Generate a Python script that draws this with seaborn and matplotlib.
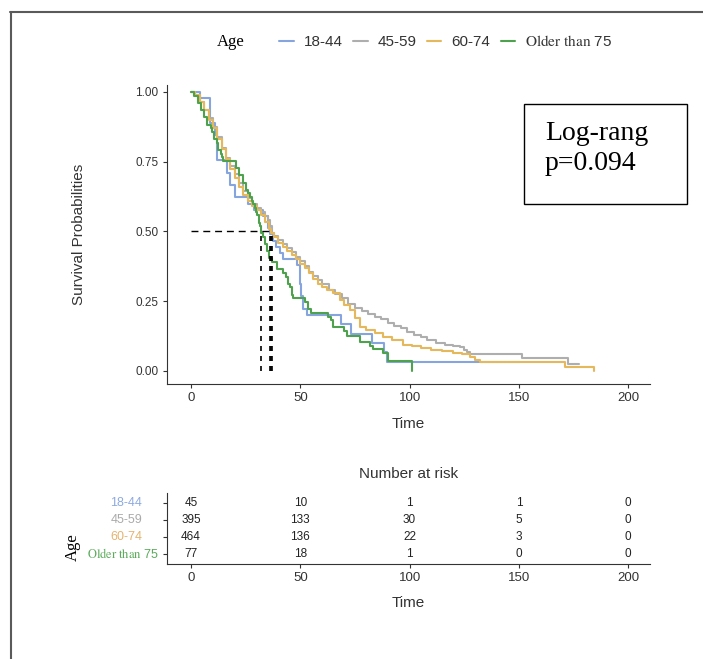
import numpy as np
import pandas as pd
import seaborn as sns
import matplotlib.pyplot as plt
from matplotlib.lines import Line2D
from matplotlib.patches import Rectangle
from matplotlib.transforms import ScaledTranslation
from matplotlib.ticker import FormatStrFormatter

sns.set_theme(style="ticks")
plt.rcParams["font.family"] = ["Liberation Sans", "DejaVu Sans"]
plt.rcParams["mathtext.fontset"] = "stix"

# ---- Kaplan-Meier step estimates per age group ----
groups = ["18-44", "45-59", "60-74", "Older than 75"]

t_18_44 = [0, 4, 8.7, 11, 11.8, 16.3, 17.8, 20.1, 26.2, 29, 33, 35, 35.2, 36.1, 37.5, 39, 40.5, 42.3,
           48.4, 49.9, 50.5, 51.4, 52.9, 68.8, 73, 83, 88.5, 89.5, 150.6]
s_18_44 = [1.0, 0.978, 0.889, 0.844, 0.756, 0.711, 0.667, 0.622, 0.600, 0.578, 0.556, 0.533, 0.511, 0.489,
           0.467, 0.444, 0.422, 0.400, 0.378, 0.311, 0.267, 0.222, 0.200, 0.167, 0.133, 0.100, 0.067, 0.033, 0.033]

t_45_59 = [0, 2, 4, 6, 8, 10, 12, 14, 16, 18, 20, 22, 24, 26, 28, 30, 32, 34, 35, 36, 36.9, 38, 40, 42, 44,
           46, 48, 50, 52, 54, 56, 58, 60, 63, 66, 69, 72, 75, 78, 81, 84, 87, 90, 93, 96, 99, 102, 105,
           108, 112, 116, 120, 123, 125, 126.2, 127.7, 151.3, 172.7, 177.3]
s_45_59 = [1.0, 0.99, 0.965, 0.935, 0.905, 0.875, 0.84, 0.80, 0.765, 0.735, 0.705, 0.675, 0.645, 0.62, 0.60,
           0.585, 0.57, 0.555, 0.54, 0.52, 0.495, 0.485, 0.47, 0.455, 0.44, 0.425, 0.41, 0.395, 0.375, 0.355,
           0.34, 0.325, 0.31, 0.29, 0.275, 0.26, 0.24, 0.225, 0.215, 0.205, 0.195, 0.185, 0.17, 0.16, 0.153,
           0.14, 0.13, 0.12, 0.11, 0.10, 0.094, 0.09, 0.087, 0.075, 0.069, 0.061, 0.048, 0.024, 0.024]

t_60_74 = [0, 2, 4, 6, 8, 10, 12, 14, 16, 18, 20, 22, 24, 26, 28, 30, 32, 34, 35.6, 36.5, 38, 40, 42, 44,
           46, 48, 50, 52, 54, 56, 58, 60, 62, 65, 68, 70, 72.8, 75, 77.3, 80, 84, 88, 92, 97, 101, 105,
           110, 115, 120, 124, 127.7, 130, 132.3, 171.2, 184.2]
s_60_74 = [1.0, 0.99, 0.965, 0.935, 0.90, 0.87, 0.83, 0.795, 0.76, 0.725, 0.69, 0.66, 0.63, 0.61, 0.59,
           0.577, 0.56, 0.535, 0.51, 0.495, 0.48, 0.46, 0.445, 0.43, 0.415, 0.40, 0.385, 0.37, 0.35, 0.33,
           0.31, 0.30, 0.29, 0.279, 0.255, 0.235, 0.219, 0.19, 0.159, 0.148, 0.135, 0.123, 0.11, 0.093,
           0.088, 0.082, 0.075, 0.07, 0.064, 0.061, 0.05, 0.04, 0.033, 0.013, 0.0]

t_older = [0, 1.5, 3, 4.5, 6, 7.5, 9, 9.5, 10.5, 11.8, 12.5, 13.5, 14, 14.8, 20.5, 22, 24, 25, 26.2, 27,
           27.8, 28.5, 29.3, 29.8, 30.3, 31, 31.6, 32, 33.1, 33.8, 34.6, 35.8, 37, 39.2, 42.3, 43.5, 44.5,
           45.3, 46, 46.8, 52, 53.7, 55, 62.8, 64, 65.1, 70, 71.3, 77.3, 82, 83.4, 88, 90.3, 101]
s_older = [1.0, 0.987, 0.961, 0.935, 0.909, 0.883, 0.87, 0.857, 0.831, 0.818, 0.792, 0.779, 0.766, 0.753,
           0.727, 0.701, 0.675, 0.649, 0.636, 0.623, 0.61, 0.597, 0.584, 0.571, 0.558, 0.532, 0.519, 0.494,
           0.481, 0.455, 0.429, 0.403, 0.39, 0.364, 0.351, 0.338, 0.312, 0.299, 0.273, 0.26, 0.247, 0.221,
           0.208, 0.195, 0.182, 0.156, 0.143, 0.125, 0.104, 0.091, 0.078, 0.065, 0.035, 0.0]

# median survival time per group (drawn as dashed reference lines)
medians = [36.1, 36.9, 36.5, 32.0]

# number at risk table
risk_times = [0, 50, 100, 150, 200]
risk_18_44 = [45, 10, 1, 1, 0]
risk_45_59 = [395, 133, 30, 5, 0]
risk_60_74 = [464, 136, 22, 3, 0]
risk_older = [77, 18, 1, 0, 0]

palette = {"18-44": "#86a5de", "45-59": "#aeaeae", "60-74": "#e6b85c", "Older than 75": "#4ea24e"}
risk_label_colors = ["#8eaadf", "#aaaaaa", "#e3b46e", "#5aab5a"]
display_names = ["18-44", "45-59", "60-74", r"$\mathrm{Older\ than}$ 75"]

curves = pd.concat([
    pd.DataFrame({"time": t, "surv": s, "Age": g})
    for g, t, s in zip(groups, [t_18_44, t_45_59, t_60_74, t_older], [s_18_44, s_45_59, s_60_74, s_older])
], ignore_index=True)

fig = plt.figure(figsize=(7.03, 6.59), dpi=100)
fig.patch.set_facecolor("white")
W, H = 703.0, 659.0

ax = fig.add_axes([167 / W, 1 - 384 / H, 483 / W, 299 / H])
sns.lineplot(data=curves, x="time", y="surv", hue="Age", hue_order=groups, palette=palette,
             estimator=None, drawstyle="steps-post", linewidth=1.5, ax=ax)

# median reference lines
ax.hlines(0.5, 0, max(medians), colors="black", linestyles=(0, (5, 3.5)), linewidth=1.0)
for m in medians:
    ax.vlines(m, 0, 0.5, colors="black", linestyles=(0, (3, 3)), linewidth=1.2)

ax.set_xlim(-11, 210)
ax.set_ylim(-0.047, 1.025)
ax.set_xticks(risk_times)
ax.set_yticks([0, 0.25, 0.5, 0.75, 1.0])
ax.yaxis.set_major_formatter(FormatStrFormatter("%.2f"))
ax.set_facecolor("white")
for side in ["top", "right"]:
    ax.spines[side].set_visible(False)
for side in ["left", "bottom"]:
    ax.spines[side].set_color("#333333")
    ax.spines[side].set_linewidth(0.8)
ax.tick_params(axis="both", direction="out", length=3, width=0.8, color="#333333",
               labelcolor="#333333", pad=3)
ax.tick_params(axis="x", labelsize=9.5)
ax.tick_params(axis="y", labelsize=8.5)
ax.set_xlabel("Time", fontsize=11, color="#333333")
ax.set_ylabel("Survival Probabilities", fontsize=11, color="#333333")
ax.xaxis.set_label_coords(0.5, -0.11)
ax.yaxis.set_label_coords(-0.168, 0.5)

handles, _ = ax.get_legend_handles_labels()
ax.legend(handles, display_names, ncol=4, loc="center", bbox_to_anchor=(446 / W, 1 - 42 / H),
          bbox_transform=fig.transFigure, frameon=False, fontsize=11, handlelength=0.92,
          handletextpad=0.65, columnspacing=0.72, labelcolor="#333333")
fig.text(231 / W, 1 - 42 / H, "Age", ha="center", va="center", fontsize=12,
         family="Liberation Serif", color="black")

# log-rank annotation box
fig.add_artist(Rectangle((524 / W, 1 - 204 / H), 163 / W, 100 / H, transform=fig.transFigure,
                         fill=False, edgecolor="black", linewidth=1.0))
fig.text(545 / W, 1 - 140 / H, "Log-rang", ha="left", va="baseline", fontsize=20,
         family="Liberation Serif", color="black")
fig.text(545 / W, 1 - 170 / H, "p=0.094", ha="left", va="baseline", fontsize=20,
         family="Liberation Serif", color="black")

# number-at-risk table
ax2 = fig.add_axes([167 / W, 1 - 564 / H, 483 / W, 71 / H])
risk_rows = [risk_18_44, risk_45_59, risk_60_74, risk_older]
for i, row in enumerate(risk_rows):
    for t, n in zip(risk_times, row):
        ax2.text(t, i + 1, str(n), ha="center", va="center", fontsize=8.5, color="#222222")
label_offsets = [-25, -25, -25, -8]
for i, (name, col, off) in enumerate(zip(display_names, risk_label_colors, label_offsets)):
    tr = ax2.get_yaxis_transform() + ScaledTranslation(off / 100, 0, fig.dpi_scale_trans)
    ax2.text(0, i + 1, name, transform=tr, ha="right", va="center", fontsize=9, color=col)
ax2.set_xlim(-11, 210)
ax2.set_ylim(4.59, 0.41)
ax2.set_xticks(risk_times)
ax2.set_yticks([1, 2, 3, 4])
ax2.set_yticklabels([])
ax2.set_facecolor("white")
for side in ["top", "right"]:
    ax2.spines[side].set_visible(False)
for side in ["left", "bottom"]:
    ax2.spines[side].set_color("#333333")
    ax2.spines[side].set_linewidth(0.8)
ax2.tick_params(axis="both", direction="out", length=3, width=0.8, color="#333333",
                labelcolor="#333333", pad=3, labelsize=9.5)
ax2.set_title("Number at risk", fontsize=11, color="#333333", pad=11)
ax2.set_xlabel("Time", fontsize=11, color="#333333")
ax2.xaxis.set_label_coords(0.5, -0.45)
ax2.set_ylabel("")
fig.text(73 / W, 1 - 547 / H, "Age", rotation=90, ha="center", va="center", fontsize=12,
         family="Liberation Serif", color="black")

# outer frame
fig.add_artist(Line2D([10.5 / W, 10.5 / W], [0, 1 - 12 / H], transform=fig.transFigure,
                      color="#5a5a5a", linewidth=1.5))
fig.add_artist(Line2D([10 / W, 1], [1 - 12 / H, 1 - 12 / H], transform=fig.transFigure,
                      color="#5a5a5a", linewidth=1.5))

fig.savefig("out.png", dpi=100, facecolor="white")
